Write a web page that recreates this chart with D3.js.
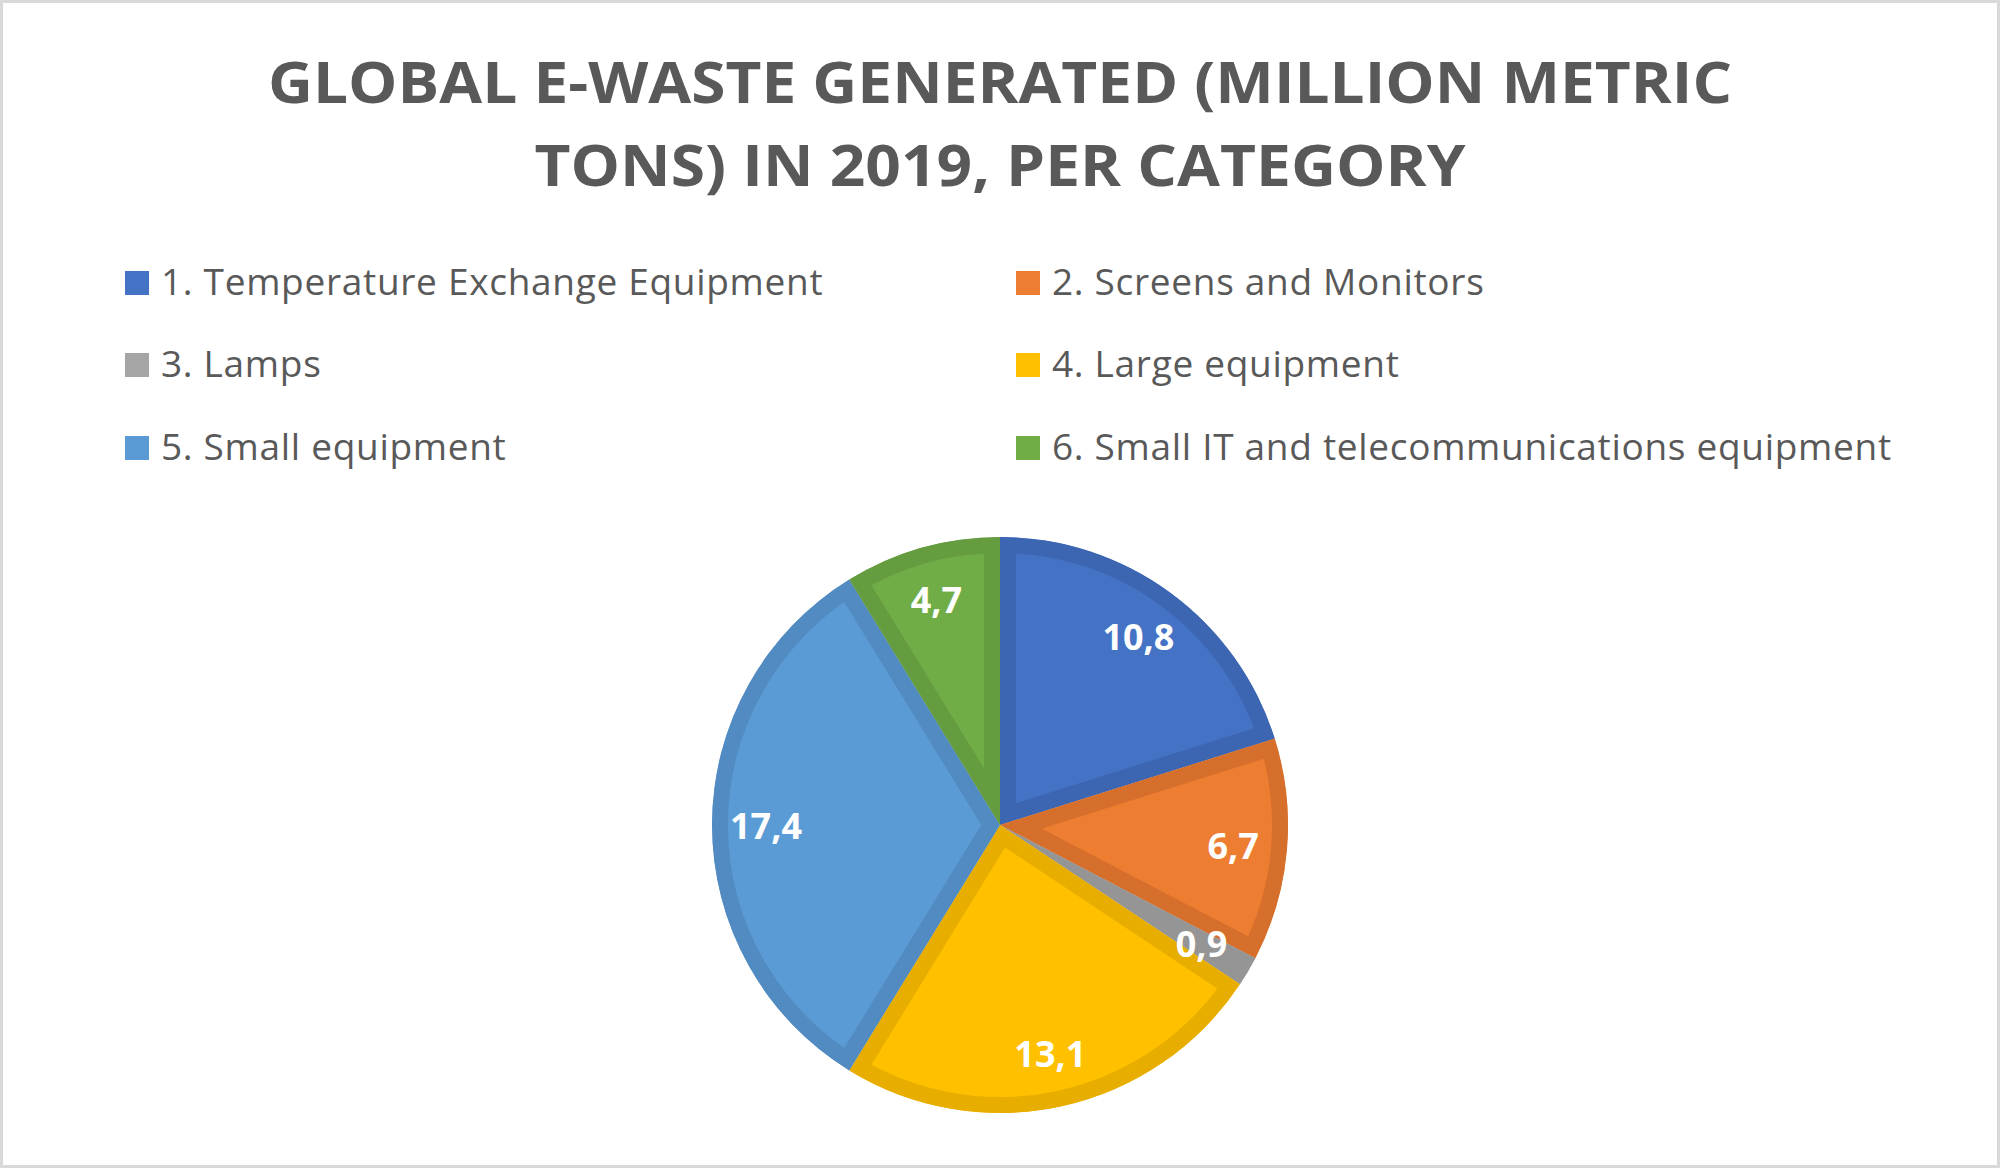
<!DOCTYPE html>
<html>
<head>
<meta charset="utf-8">
<script src="https://cdn.jsdelivr.net/npm/d3@7"></script>
<style>
  html, body { margin: 0; padding: 0; background: #fff; }
  svg { display: block; }
</style>
</head>
<body>
<svg id="chart" width="2000" height="1168"></svg>
<script>
// ---- data ----
const titleLines = ["GLOBAL E-WASTE GENERATED (MILLION METRIC", "TONS) IN 2019, PER CATEGORY"];
const categories = [
  "1. Temperature Exchange Equipment",
  "2. Screens and Monitors",
  "3. Lamps",
  "4. Large equipment",
  "5. Small equipment",
  "6. Small IT and telecommunications equipment"
];
const values = [10.8, 6.7, 0.9, 13.1, 17.4, 4.7];
const valueLabels = ["10,8", "6,7", "0,9", "13,1", "17,4", "4,7"];
const fillColors = ["#4472C4", "#ED7D31", "#A5A5A5", "#FFC000", "#5B9BD5", "#70AD47"];
const edgeColors = ["#3C66B2", "#D66F2C", "#959595", "#E7AE00", "#528BC1", "#659C40"];

// ---- layout ----
const W = 2000, H = 1168;
const svg = d3.select("#chart");
const textColor = "#595959";

svg.append("rect").attr("x", 1.5).attr("y", 1.5).attr("width", W - 3).attr("height", H - 3)
  .attr("fill", "#fff").attr("stroke", "#D9D9D9").attr("stroke-width", 3);

// title
const titleBaselines = [103, 186];
const titleWidths = [1464, 931];
svg.append("g").selectAll("text").data(titleLines).join("text")
  .attr("x", 1000).attr("y", (d, i) => titleBaselines[i])
  .attr("text-anchor", "middle")
  .attr("font-family", "'Open Sans', sans-serif")
  .attr("font-weight", 700)
  .attr("font-size", 58)
  .attr("fill", textColor)
  .attr("textLength", (d, i) => titleWidths[i])
  .attr("lengthAdjust", "spacingAndGlyphs")
  .text(d => d);

// legend
const legendCols = [125, 1016];
const legendRows = [295, 377, 460];
const legend = svg.append("g").selectAll("g").data(categories).join("g")
  .attr("transform", (d, i) => `translate(${legendCols[i % 2]},${legendRows[Math.floor(i / 2)]})`);
legend.append("rect").attr("x", 0).attr("y", -24).attr("width", 24).attr("height", 24)
  .attr("fill", (d, i) => fillColors[i]);
legend.append("text").attr("x", 36).attr("y", 0)
  .attr("font-family", "'Open Sans', sans-serif")
  .attr("font-size", 37)
  .attr("letter-spacing", 0.7)
  .attr("fill", textColor)
  .text(d => d);

// pie
const cx = 1000, cy = 825, R = 288, edgeW = 16;
const pie = d3.pie().sort(null).value(d => d)(values);
const arc = d3.arc().innerRadius(0).outerRadius(R);
const labelArc = d3.arc().innerRadius(234).outerRadius(234);

const g = svg.append("g").attr("transform", `translate(${cx},${cy})`);
const defs = svg.append("defs");
defs.selectAll("clipPath").data(pie).join("clipPath")
  .attr("id", (d, i) => "clip" + i)
  .append("path").attr("d", arc);

g.selectAll("path.slice").data(pie).join("path")
  .attr("class", "slice")
  .attr("d", arc)
  .attr("fill", (d, i) => fillColors[i])
  .attr("stroke", (d, i) => edgeColors[i])
  .attr("stroke-width", edgeW * 2)
  .attr("stroke-linejoin", "miter")
  .attr("clip-path", (d, i) => `url(#clip${i})`);

g.selectAll("text.lbl").data(pie).join("text")
  .attr("class", "lbl")
  .attr("transform", d => `translate(${labelArc.centroid(d)})`)
  .attr("text-anchor", "middle")
  .attr("dominant-baseline", "central")
  .attr("font-family", "'Open Sans', sans-serif")
  .attr("font-weight", 700)
  .attr("font-size", 36)
  .attr("fill", "#fff")
  .text((d, i) => valueLabels[i]);
</script>
</body>
</html>
